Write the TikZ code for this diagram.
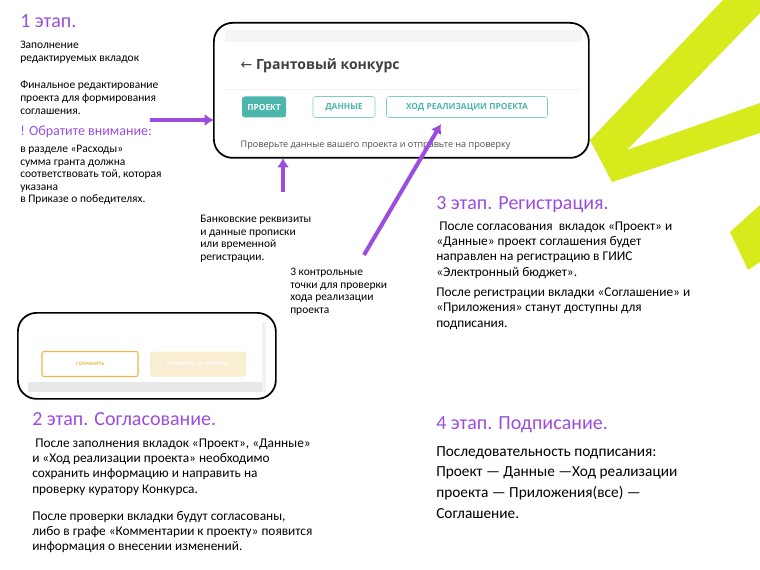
\documentclass[tikz,border=0pt]{standalone}
\usepackage{fontspec}
\setmainfont{Carlito}
\setsansfont{Open Sans}
\newfontfamily\djv{DejaVu Sans}
\usetikzlibrary{arrows.meta}
\definecolor{pur}{HTML}{9B4DE0}
\definecolor{lime}{HTML}{D6EA1C}
\definecolor{teal}{HTML}{4DB6AC}
\definecolor{org}{HTML}{E8B84A}
\begin{document}
\begin{tikzpicture}[x=0.75pt,y=-0.75pt,
  txt/.style={anchor=north west,inner sep=0pt,align=left,font=\fontsize{8.6}{9.4}\selectfont},
  body/.style={anchor=north west,inner sep=0pt,align=left,font=\fontsize{10}{11.3}\selectfont},
  head/.style={anchor=north west,inner sep=0pt,text=pur,font=\fontsize{15}{17}\selectfont},
  shot/.style={draw=black,line width=1.3pt,rounded corners=14pt},
  btn/.style={rounded corners=2pt,font=\fontsize{6.3}{7}\selectfont\bfseries\sffamily,minimum height=21*0.75pt},
  parr/.style={pur,line width=3pt,-{Latex[length=7pt,width=9pt]}}]
\useasboundingbox (0,0) rectangle (760,570);
% lime shapes
\fill[lime] (723,0) -- (590,140) -- (612,182) -- (760,133) -- (760,103) -- (627,150) -- (760,13) -- (760,0) -- cycle;
\fill[lime] (730,232) -- (760,205) -- (760,262) -- (748,270) -- cycle;
% stage 1
\node[head] (h1) at (20,14) {1 этап.};
\node[txt] (t1) at (20,41) {Заполнение\\редактируемых вкладок};
\node[txt] (t2) at (20,81) {Финальное редактирование\\проекта для формирования\\соглашения.};
\node[anchor=north west,inner sep=0pt,text=pur,font=\fontsize{10.5}{12}\selectfont] (t3) at (20,126) {! Обратите внимание:};
\node[txt] (t4) at (20,145) {в разделе «Расходы»\\сумма гранта должна\\соответствовать той, которая\\указана\\в Приказе о победителях.};
% screenshot 1
\node[shot,minimum width=375*0.75pt,minimum height=135*0.75pt,anchor=north west] (s1) at (213,22) {};
\fill[gray!8] (225,30) rectangle (582,42);
\draw[gray!10] (225,89) -- (580,89);
\node[anchor=west,text=black!75,font=\fontsize{10.5}{12}\selectfont\sffamily\bfseries] (gk) at (236,66) {{\djv\mdseries ←}\ Грантовый конкурс};
\node[btn,fill=teal,text=white,minimum width=44*0.75pt] (b1) at (264,107) {ПРОЕКТ};
\node[btn,draw=teal!70,text=teal,minimum width=62*0.75pt] (b2) at (344,107) {ДАННЫЕ};
\node[btn,draw=teal!70,text=teal,minimum width=161*0.75pt] (b3) at (467,107) {ХОД РЕАЛИЗАЦИИ ПРОЕКТА};
\node[anchor=west,text=black!70,font=\fontsize{6.8}{8}\selectfont\sffamily] (ck) at (236,145) {Проверьте данные вашего проекта и отправьте на проверку};
% arrows
\coordinate (a1s) at (150,120);
\coordinate (a1e) at (214,120);
\draw[parr] (a1s) -- (a1e);
\coordinate (a2s) at (283,192);
\coordinate (a2e) at (283,158);
\draw[parr] (a2s) -- (a2e);
\coordinate (a3s) at (364,255);
\coordinate (a3e) at (441,124);
\draw[parr] (a3s) -- (a3e);
\node[txt] (bank) at (200,215) {Банковские реквизиты\\и данные прописки\\или временной\\регистрации.};
\node[txt] (kt) at (290,268) {3 контрольные\\точки для проверки\\хода реализации\\проекта};
% stage 3
\node[head] (h3) at (436,196) {3 этап. Регистрация.};
\node[body] (p31) at (436,222) {\ После согласования \ вкладок «Проект» и\\«Данные» проект соглашения будет\\направлен на регистрацию в ГИИС\\«Электронный бюджет».};
\node[body] (p32) at (436,288) {После регистрации вкладки «Соглашение» и\\«Приложения» станут доступны для\\подписания.};
% screenshot 2
\fill[gray!18] (28,382) rectangle (262,392);
\fill[gray!10] (262,322) rectangle (266,392);
\node[shot,minimum width=258*0.75pt,minimum height=86*0.75pt,anchor=north west] (s2) at (17,312) {};
\node[draw=org,line width=0.8pt,text=org,rounded corners=1.5pt,font=\fontsize{3.5}{4}\selectfont\bfseries\sffamily,minimum width=96*0.75pt,minimum height=25*0.75pt] (sv) at (90,364) {СОХРАНИТЬ};
\node[fill=org!25,text=white,rounded corners=1.5pt,font=\fontsize{3.5}{4}\selectfont\bfseries\sffamily,minimum width=96*0.75pt,minimum height=25*0.75pt] (sp) at (198,364) {ОТПРАВИТЬ НА ПРОВЕРКУ};
% stage 2
\node[head] (h2) at (32,412) {2 этап. Согласование.};
\node[body] (p21) at (32,439) {\ После заполнения вкладок «Проект», «Данные»\\и «Ход реализации проекта» необходимо\\сохранить информацию и направить на\\проверку куратору Конкурса.};
\node[body] (p22) at (32,511) {После проверки вкладки будут согласованы,\\либо в графе «Комментарии к проекту» появится\\информация о внесении изменений.};
% stage 4
\node[head] (h4) at (436,416) {4 этап. Подписание.};
\node[anchor=north west,inner sep=0pt,align=left,font=\fontsize{11.5}{15.5}\selectfont] (p4) at (436,446) {Последовательность подписания:\\Проект — Данные —Ход реализации\\проекта — Приложения(все) —\\Соглашение.};
\end{tikzpicture}
\end{document}
